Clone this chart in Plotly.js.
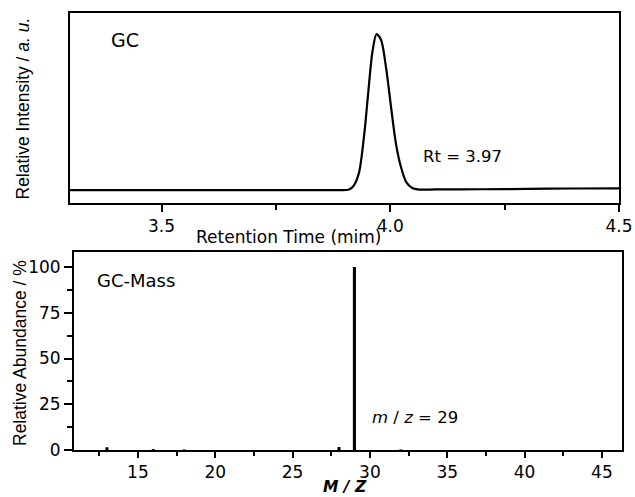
<!DOCTYPE html>
<html>
<head>
<meta charset="utf-8">
<script src="https://cdn.plot.ly/plotly-3.0.1.min.js"></script>
<style>html,body{margin:0;padding:0;background:#fff;}#chart{width:635px;height:497px;}</style>
</head>
<body>
<div id="chart"></div>
<script>
// GC chromatogram (retention time in min, relative intensity a.u.)
const gcTime = [3.30, 3.40, 3.50, 3.60, 3.70, 3.80, 3.88, 3.910, 3.921, 3.932, 3.943, 3.952, 3.961, 3.970, 3.980, 3.991, 4.002, 4.013, 4.024, 4.035, 4.048, 4.063, 4.10, 4.20, 4.30, 4.40, 4.50];
const gcIntensity = [0, 0, 0, 0, 0, 0, 0, 0.3, 3.2, 11.5, 35.3, 62.8, 88.5, 100, 96.2, 78.2, 52.6, 28.8, 14.1, 5.1, 1.3, 0.3, 0.4, 0.5, 0.7, 1.0, 1.1];

// Mass spectrum (m/z, relative abundance %)
const msMZ = [13, 16, 18, 28, 29, 32];
const msAbundance = [1.5, 0.5, 0.3, 1.6, 100, 0.3];

const gcTicks = [3.5, 4.0, 4.5];
const msXTicks = [15, 20, 25, 30, 35, 40, 45];
const msYTicks = [0, 25, 50, 75, 100];

const FONT = 'DejaVu Sans, sans-serif';
const RFONT = 'Liberation Sans, Arial, sans-serif';

const traces = [
  {x: gcTime, y: gcIntensity, type: 'scatter', mode: 'lines',
   line: {color: '#000', width: 2.2, shape: 'spline', smoothing: 0.8},
   xaxis: 'x', yaxis: 'y', hoverinfo: 'none'},
  {x: msMZ, y: msAbundance, type: 'bar', width: 0.2,
   marker: {color: '#000', line: {width: 0}},
   xaxis: 'x2', yaxis: 'y2', hoverinfo: 'none'}
];

const layout = {
  width: 635, height: 497,
  margin: {l: 0, r: 0, t: 0, b: 0},
  paper_bgcolor: '#fff', plot_bgcolor: '#fff',
  showlegend: false,
  font: {family: FONT, color: '#000', size: 17},
  xaxis: {
    domain: [70/635, 619/635], range: [3.30, 4.5], anchor: 'y',
    tickvals: gcTicks, tickformat: '.1f',
    ticks: 'outside', ticklen: 7, tickwidth: 2, tickcolor: '#000',
    minor: {tickvals: [3.75, 4.25], ticks: 'outside', ticklen: 5, tickwidth: 2, tickcolor: '#000'},
    showline: true, mirror: true, linewidth: 2, linecolor: '#000',
    showgrid: false, zeroline: false,
    tickfont: {family: FONT, size: 17, color: '#000'}
  },
  yaxis: {
    domain: [(497-203)/497, (497-13)/497], range: [-8.3, 113.5], anchor: 'x',
    showticklabels: false, ticks: '',
    showline: true, mirror: true, linewidth: 2, linecolor: '#000',
    showgrid: false, zeroline: false
  },
  xaxis2: {
    domain: [74/635, 622/635], range: [10.87, 46.3], anchor: 'y2',
    tickvals: msXTicks,
    ticks: 'outside', ticklen: 6, tickwidth: 2, tickcolor: '#000',
    minor: {dtick: 2.5, tick0: 0, ticks: 'outside', ticklen: 4, tickwidth: 2, tickcolor: '#000'},
    showline: true, mirror: true, linewidth: 2, linecolor: '#000',
    showgrid: false, zeroline: false,
    tickfont: {family: FONT, size: 17, color: '#000'}
  },
  yaxis2: {
    domain: [(497-450)/497, (497-252)/497], range: [0, 108.2], anchor: 'x2',
    tickvals: msYTicks,
    ticks: 'outside', ticklen: 8, tickwidth: 2, tickcolor: '#000',
    minor: {dtick: 12.5, tick0: 0, ticks: 'outside', ticklen: 5, tickwidth: 2, tickcolor: '#000'},
    showline: true, mirror: true, linewidth: 2, linecolor: '#000',
    showgrid: false, zeroline: false,
    tickfont: {family: FONT, size: 17, color: '#000'}
  },
  annotations: [
    {text: 'GC', xref: 'paper', yref: 'paper', x: 125/635, y: 1-40/497,
     xanchor: 'center', yanchor: 'middle', showarrow: false, font: {family: FONT, size: 19}},
    {text: 'Rt = 3.97', xref: 'paper', yref: 'paper', x: 463/635, y: 1-157/497,
     xanchor: 'center', yanchor: 'middle', showarrow: false, font: {family: FONT, size: 16.5}},
    {text: 'Retention Time (mim)', xref: 'paper', yref: 'paper', x: 289/635, y: 1-237/497,
     xanchor: 'center', yanchor: 'middle', showarrow: false, font: {family: FONT, size: 17}},
    {text: 'Relative Intensity / <i>a. u.</i>', xref: 'paper', yref: 'paper', x: 23/635, y: 1-108.5/497,
     xanchor: 'center', yanchor: 'middle', textangle: -90, showarrow: false, font: {family: RFONT, size: 17.5}},
    {text: 'GC-Mass', xref: 'paper', yref: 'paper', x: 135.5/635, y: 1-280/497,
     xanchor: 'center', yanchor: 'middle', showarrow: false, font: {family: FONT, size: 18}},
    {text: '<i>m</i> / <i>z</i> = 29', xref: 'paper', yref: 'paper', x: 414.5/635, y: 1-417/497,
     xanchor: 'center', yanchor: 'middle', showarrow: false, font: {family: FONT, size: 16.5}},
    {text: '<b><i>M / Z</i></b>', xref: 'paper', yref: 'paper', x: 345/635, y: 0, borderpad: 0,
     xanchor: 'center', yanchor: 'bottom', showarrow: false, font: {family: FONT, size: 15.5}},
    {text: 'Relative Abundance / %', xref: 'paper', yref: 'paper', x: 20/635, y: 1-353/497,
     xanchor: 'center', yanchor: 'middle', textangle: -90, showarrow: false, font: {family: RFONT, size: 17.5}}
  ]
};

Plotly.newPlot('chart', traces, layout, {staticPlot: true, displayModeBar: false});
</script>
</body>
</html>
